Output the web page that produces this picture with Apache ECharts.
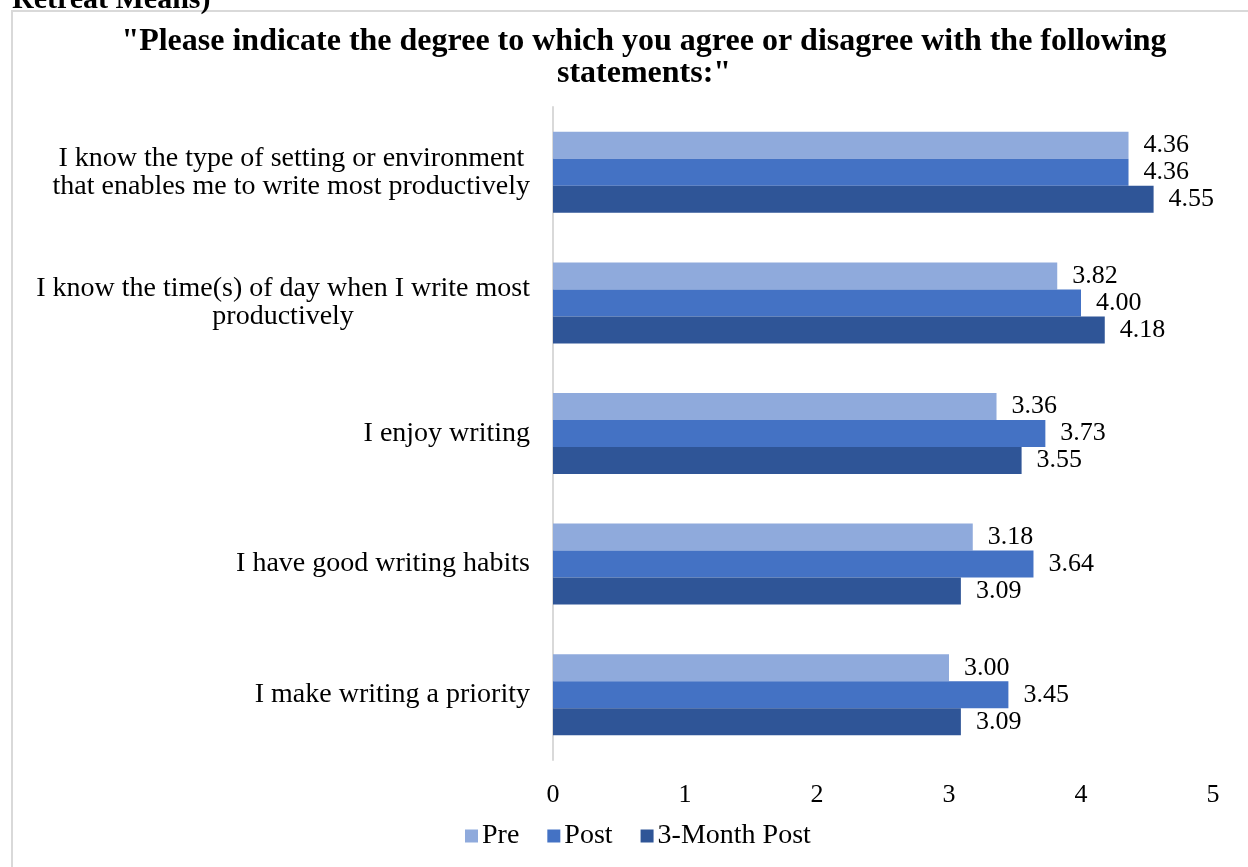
<!DOCTYPE html>
<html>
<head>
<meta charset="utf-8">
<script src="https://cdn.jsdelivr.net/npm/echarts@6/dist/echarts.min.js"></script>
<style>
  html, body { margin: 0; padding: 0; background: #ffffff; }
  #chart { width: 1248px; height: 867px; }
</style>
</head>
<body>
<div id="chart"></div>
<script>
// Survey statements (top to bottom)
const statements = [
  'I know the type of setting or environment\nthat enables me to write most productively',
  'I know the time(s) of day when I write most\nproductively',
  'I enjoy writing',
  'I have good writing habits',
  'I make writing a priority'
];
const seriesNames = ['Pre', 'Post', '3-Month Post'];
const preValues = [4.36, 3.82, 3.36, 3.18, 3.00];
const postValues = [4.36, 4.00, 3.73, 3.64, 3.45];
const threeMonthValues = [4.55, 4.18, 3.55, 3.09, 3.09];
const xTicks = [0, 1, 2, 3, 4, 5];

const colors = ['#8FAADC', '#4472C4', '#2F5597'];
const serif = '"Liberation Serif", "Times New Roman", serif';

const chart = echarts.init(document.getElementById('chart'), null, { renderer: 'canvas' });

function makeSeries(name, values, color) {
  return {
    name: name,
    type: 'bar',
    data: values,
    barWidth: 27,
    barGap: '0%',
    itemStyle: { color: color },
    label: {
      show: true,
      position: 'right',
      distance: 15,
      formatter: p => p.value.toFixed(2),
      color: '#000000',
      fontFamily: serif,
      fontSize: 26
    }
  };
}

chart.setOption({
  backgroundColor: '#ffffff',
  animation: false,
  title: {
    text: '"Please indicate the degree to which you agree or disagree with the following\nstatements:"',
    left: 639,
    top: 21,
    textAlign: 'center',
    textStyle: {
      fontFamily: serif,
      fontWeight: 'bold',
      fontSize: 32,
      lineHeight: 32,
      color: '#000000'
    }
  },
  graphic: [
    {
      type: 'rect',
      silent: true,
      shape: { x: 12, y: 11, width: 1300, height: 900 },
      style: { fill: 'none', stroke: '#d9d9d9', lineWidth: 2 },
      z: -1
    },
    {
      // heading carried over from the previous page, cut at the top edge
      type: 'text',
      silent: true,
      style: {
        x: 12,
        y: -15,
        text: 'Retreat Means)',
        fontFamily: serif,
        fontWeight: 'bold',
        fontSize: 30,
        fill: '#000000'
      }
    }
  ],
  legend: {
    data: seriesNames,
    left: 460,
    top: 817,
    itemWidth: 13,
    itemHeight: 13,
    itemGap: 28,
    icon: 'rect',
    textStyle: { fontFamily: serif, fontSize: 28, color: '#000000', padding: [0, 0, 0, -1] }
  },
  grid: {
    left: 553,
    right: 35,
    top: 107,
    bottom: 107,
    containLabel: false
  },
  xAxis: {
    type: 'value',
    min: xTicks[0],
    max: xTicks[xTicks.length - 1],
    interval: 1,
    axisLine: { show: false },
    axisTick: { show: false },
    splitLine: { show: false },
    axisLabel: {
      margin: 22,
      color: '#000000',
      fontFamily: serif,
      fontSize: 26
    }
  },
  yAxis: {
    type: 'category',
    data: statements,
    inverse: true,
    axisLine: { show: true, lineStyle: { color: '#d9d9d9', width: 2 } },
    axisTick: { show: false },
    axisLabel: {
      margin: 23,
      color: '#000000',
      fontFamily: serif,
      fontSize: 28,
      lineHeight: 28,
      formatter: v => v.split('\n').map(s => '{c|' + s + '}').join('\n'),
      rich: {
        c: { align: 'center', fontFamily: serif, fontSize: 28, lineHeight: 28, color: '#000000' }
      }
    }
  },
  series: [
    makeSeries(seriesNames[0], preValues, colors[0]),
    makeSeries(seriesNames[1], postValues, colors[1]),
    makeSeries(seriesNames[2], threeMonthValues, colors[2])
  ]
});
</script>
</body>
</html>
